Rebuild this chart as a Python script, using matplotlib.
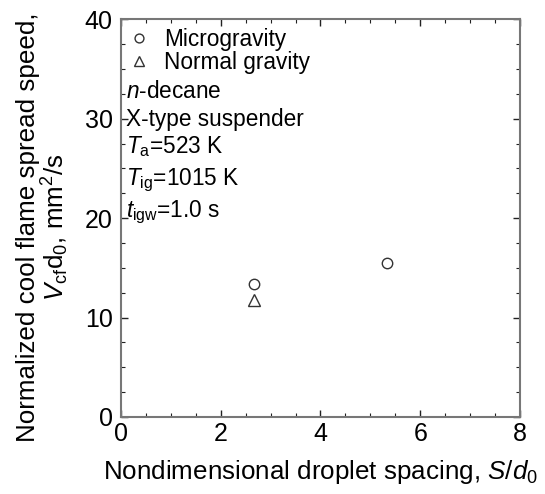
import matplotlib
matplotlib.use('Agg')
import matplotlib.pyplot as plt
from matplotlib.ticker import MultipleLocator

plt.rcParams['font.family'] = ['Liberation Sans', 'DejaVu Sans']
plt.rcParams['mathtext.fontset'] = 'custom'
plt.rcParams['mathtext.rm'] = 'Liberation Sans'
plt.rcParams['mathtext.it'] = 'Liberation Sans:italic'

# data
micro_x = [2.67, 5.33]
micro_y = [13.4, 15.5]
normal_x = [2.67]
normal_y = [11.8]

notes = ['$n$-decane', 'X-type suspender', '$T_{\\rm a}$=523 K',
         '$T_{\\rm ig}$=1015 K', '$t_{\\rm igw}$=1.0 s']
note_y = [0.8025, 0.732, 0.664, 0.584, 0.503]

fig = plt.figure(figsize=(5.45, 4.94), dpi=100)
ax = fig.add_axes([0.222, 0.156, 0.732, 0.805])

ax.plot(micro_x, micro_y, 'o', ms=7.5, mfc='white', mec='#333333', mew=1.0,
        label='Microgravity')
ax.plot(normal_x, normal_y, '^', ms=8.5, mfc='white', mec='#333333', mew=1.0,
        label='Normal gravity')

ax.set_xlim(0, 8)
ax.set_ylim(0, 40)
ax.xaxis.set_major_locator(MultipleLocator(2))
ax.xaxis.set_minor_locator(MultipleLocator(0.5))
ax.yaxis.set_major_locator(MultipleLocator(10))
ax.yaxis.set_minor_locator(MultipleLocator(2.5))
ax.tick_params(which='both', direction='in', top=True, right=True, color='#222222')
ax.tick_params(which='major', length=5, width=1, labelsize=18,
               labelfontfamily=['Liberation Sans Narrow', 'Liberation Sans'])
ax.tick_params(which='minor', length=3, width=0.8)
ax.tick_params(axis='x', pad=4)
ax.tick_params(axis='y', pad=6)
for s in ax.spines.values():
    s.set_color('#777777')
    s.set_linewidth(1.5)

ax.set_xlabel('Nondimensional droplet spacing, $S$/$d_0$', fontsize=18.7, labelpad=8)
ax.set_ylabel('Normalized cool flame spread speed,\n$V_{\\rm cf}$d$_0$, mm$^2$/s',
              fontsize=18.7, linespacing=1.0)
ax.yaxis.set_label_coords(-0.125, 0.478)

ax.legend(loc='upper left', frameon=False, fontsize=16.3, handletextpad=0.5,
          handlelength=1.2, borderaxespad=0.0, borderpad=0.2, labelspacing=0.02,
          markerscale=0.85, bbox_to_anchor=(0.0, 0.99))

for t, yy in zip(notes, note_y):
    ax.text(0.012, yy, t, transform=ax.transAxes,
            fontsize=16.3, va='baseline', ha='left')

fig.savefig('out.png', dpi=100)
